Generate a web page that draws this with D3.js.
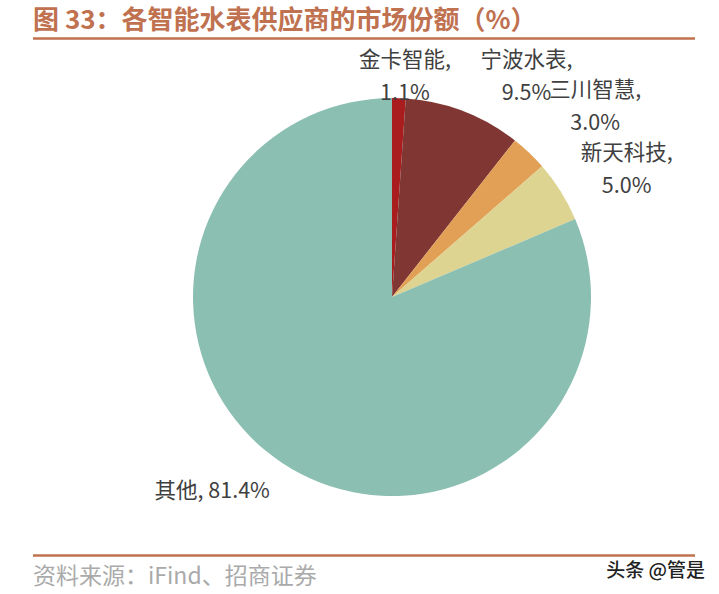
<!DOCTYPE html>
<html><head><meta charset="utf-8">
<script src="https://cdn.jsdelivr.net/npm/d3@7"></script>
<style>
body{margin:0;background:#fff;}
svg{display:block;}
</style></head>
<body><svg id="c" width="719" height="594"></svg>
<script>
const names = ["金卡智能", "宁波水表", "三川智慧", "新天科技", "其他"];
const shares = [1.1, 9.5, 3.0, 5.0, 81.4];
const colors = ["#a91d1e", "#803734", "#e1a055", "#ddd491", "#8bbfb1"];
const titleText = "图 33：各智能水表供应商的市场份额（%）";
const sourceText = "资料来源：iFind、招商证券";
const watermark = "头条 @管是";

const svg = d3.select("#c");
const W = 719, H = 594;
const cx = 392, cy = 297, R = 199;
const accent = "#c0714f";
const labelFont = "'Liberation Sans Narrow','Noto Sans CJK SC',sans-serif";

svg.append("text").attr("x", 33).attr("y", 29)
  .attr("font-family", "'Noto Sans CJK SC',sans-serif").attr("font-weight", "bold")
  .attr("font-size", 26).attr("fill", accent).text(titleText);
svg.append("line").attr("x1", 33).attr("x2", 695).attr("y1", 38.5).attr("y2", 38.5)
  .attr("stroke", accent).attr("stroke-width", 2.5);
svg.append("line").attr("x1", 33).attr("x2", 695).attr("y1", 555.5).attr("y2", 555.5)
  .attr("stroke", accent).attr("stroke-width", 2.5);
svg.append("text").attr("x", 33).attr("y", 584)
  .attr("font-family", "'Liberation Sans Narrow','Noto Sans CJK SC',sans-serif")
  .attr("font-size", 23).attr("fill", "#aaaaaa").text(sourceText);
svg.append("text").attr("x", 705).attr("y", 577).attr("text-anchor", "end")
  .attr("font-family", "'Noto Sans CJK SC',sans-serif").attr("font-weight", 500)
  .attr("font-size", 19).attr("fill", "#222").text(watermark);

const data = names.map((n, i) => ({name: n, value: shares[i], color: colors[i]}));
const pie = d3.pie().value(d => d.value).sort(null);
const arcs = pie(data);
const arc = d3.arc().innerRadius(0).outerRadius(R);

const g = svg.append("g").attr("transform", `translate(${cx},${cy})`);
g.selectAll("path").data(arcs).join("path")
  .attr("d", arc).attr("fill", d => d.data.color);

// label offsets from the outer edge point at the slice's mid angle
const labelOffsets = [[6, -22], [63, -35], [66, -47], [66, -22], [-70, 27]];
const twoLine = [true, true, true, true, false];
arcs.forEach((a, i) => {
  const m = (a.startAngle + a.endAngle) / 2;
  const px = R * Math.sin(m) + labelOffsets[i][0];
  const py = -R * Math.cos(m) + labelOffsets[i][1];
  const t = g.append("text").attr("text-anchor", "middle")
    .attr("font-family", labelFont).attr("font-size", 21.5).attr("fill", "#404040");
  const pct = d3.format(".1f")(a.data.value) + "%";
  if (twoLine[i]) {
    t.append("tspan").attr("x", px).attr("y", py - 9).text(a.data.name + ",");
    t.append("tspan").attr("x", px).attr("y", py + 24).text(pct);
  } else {
    t.append("tspan").attr("x", px).attr("y", py + 8).text(a.data.name + ", " + pct);
  }
});
</script></body></html>
